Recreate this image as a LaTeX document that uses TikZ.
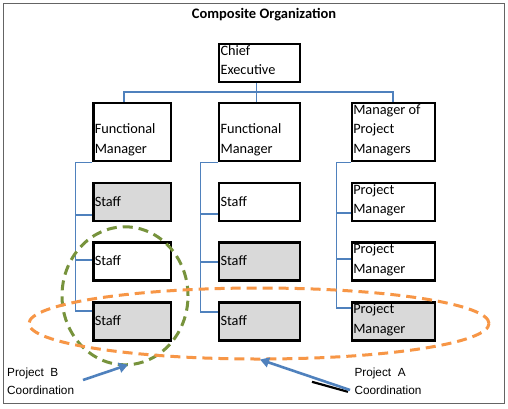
\documentclass[tikz,border=0pt]{standalone}
\usepackage{fontspec}
\setmainfont{Carlito}
\newfontfamily\arialf{Liberation Sans}
\usetikzlibrary{arrows.meta,shapes.geometric}
\pgfdeclarelayer{back}
\pgfdeclarelayer{bg}
\pgfsetlayers{back,bg,main}
\definecolor{conncol}{HTML}{4F81BD}
\definecolor{boxgray}{HTML}{D9D9D9}
\definecolor{projAcol}{HTML}{F79646}
\definecolor{projBcol}{HTML}{77933C}
\definecolor{framecol}{HTML}{646464}
\newcommand{\mlines}[1]{\begin{tabular}[t]{@{}l@{}}#1\end{tabular}}
\begin{document}
\begin{tikzpicture}[x=1pt,y=-1pt,
  orgbox/.style={draw=black, line width=2.3pt, fill=white, inner sep=0pt, minimum height=38pt},
  shaded/.style={fill=boxgray},
  boxtext/.style={anchor=base west, inner sep=0pt, font=\fontsize{14.3}{19.5}\selectfont},
  conn/.style={draw=conncol, line width=1.1pt},
  ring/.style={draw, ellipse, line width=3pt, dash pattern=on 10pt off 6pt, inner sep=0pt},
  pointer/.style={draw=conncol, line width=2.6pt, -{Triangle[length=9pt,width=10pt]}},
  lbl/.style={anchor=base west, inner sep=0pt, font=\arialf\fontsize{11.8}{18}\selectfont}]
\useasboundingbox (0,0) rectangle (508,408);
\begin{pgfonlayer}{back}
\fill[white] (0,0) rectangle (508,408);
\draw[framecol, line width=1.3pt] (3.5,3.5) rectangle (504.5,403.5);
\end{pgfonlayer}

\node[font=\fontsize{14.5}{17}\selectfont\bfseries, anchor=base, inner sep=0pt] (title) at (264,18.5) {Composite Organization};

% boxes
\node[orgbox, minimum width=80.7pt] (ce) at (259.65,63) {};
\node[orgbox, minimum width=77.5pt, minimum height=58pt] (fm1) at (132.25,132) {};
\node[orgbox, minimum width=80.7pt, minimum height=58pt] (fm2) at (259.65,132) {};
\node[orgbox, minimum width=83pt, minimum height=58pt] (mpm) at (393.5,132) {};

\node[orgbox, shaded, minimum width=77.5pt] (r1c1) at (132.25,202) {};
\node[orgbox, minimum width=80.7pt] (r1c2) at (259.65,202) {};
\node[orgbox, minimum width=83pt] (r1c3) at (393.5,202) {};

\node[orgbox, minimum width=77.5pt] (r2c1) at (132.25,261.5) {};
\node[orgbox, shaded, minimum width=80.7pt] (r2c2) at (259.65,261.5) {};
\node[orgbox, minimum width=83pt] (r2c3) at (393.5,261.5) {};

\node[orgbox, shaded, minimum width=77.5pt] (r3c1) at (132.25,321.5) {};
\node[orgbox, shaded, minimum width=80.7pt] (r3c2) at (259.65,321.5) {};
\node[orgbox, shaded, minimum width=83pt] (r3c3) at (393.5,321.5) {};

% texts
\node[boxtext] (tce) at ([shift={(2.2,12.5)}]ce.north west) {\mlines{Chief\\Executive}};
\node[boxtext] (tfm1) at ([shift={(2.2,12.5)}]fm1.north west) {\mlines{\\Functional\\Manager}};
\node[boxtext] (tfm2) at ([shift={(2.2,12.5)}]fm2.north west) {\mlines{\\Functional\\Manager}};
\node[boxtext] (tmpm) at ([shift={(2.2,12.5)}]mpm.north west) {\mlines{Manager of\\Project\\Managers}};

\node[boxtext] (t11) at ([shift={(2.2,24.5)}]r1c1.north west) {Staff};
\node[boxtext] (t12) at ([shift={(2.2,24.5)}]r1c2.north west) {Staff};
\node[boxtext] (t13) at ([shift={(2.2,12.2)}]r1c3.north west) {\mlines{Project\\Manager}};
\node[boxtext] (t21) at ([shift={(2.2,24.5)}]r2c1.north west) {Staff};
\node[boxtext] (t22) at ([shift={(2.2,24.5)}]r2c2.north west) {Staff};
\node[boxtext] (t23) at ([shift={(2.2,12.2)}]r2c3.north west) {\mlines{Project\\Manager}};
\node[boxtext] (t31) at ([shift={(2.2,24.5)}]r3c1.north west) {Staff};
\node[boxtext] (t32) at ([shift={(2.2,24.5)}]r3c2.north west) {Staff};
\node[boxtext] (t33) at ([shift={(2.2,12.2)}]r3c3.north west) {\mlines{Project\\Manager}};

% connectors
\begin{pgfonlayer}{bg}
\coordinate (busL) at (124,92);
\coordinate (busR) at (393,92);
\draw[conn] (fm1.north -| busL) -- (busL) -- (busR) -- (mpm.north -| busR);
\draw[conn] ([xshift=-3.5pt]ce.south) -- ([xshift=-3.5pt]fm2.north);

\draw[conn] (fm1.south west) -- ++(-16.5,0) |- ([shift={(0,-10.5)}]r3c1.west);
\draw[conn] ([shift={(0,13)}]r1c1.west) -- ++(-16.5,0);
\draw[conn] ([shift={(0,-1.5)}]r2c1.west) -- ++(-16.5,0);

\draw[conn] (fm2.south west) -- ++(-17.3,0) |- ([shift={(0,-9.5)}]r3c2.west);
\draw[conn] ([shift={(0,12)}]r1c2.west) -- ++(-17.3,0);
\draw[conn] ([shift={(0,0.5)}]r2c2.west) -- ++(-17.3,0);

\draw[conn] (mpm.south west) -- ++(-14,0) |- ([shift={(0,-13.5)}]r3c3.west);
\draw[conn] ([shift={(0,11)}]r1c3.west) -- ++(-14,0);
\draw[conn] ([shift={(0,-2.5)}]r2c3.west) -- ++(-14,0);
\end{pgfonlayer}

% coordination rings
\node[ring, draw=projBcol, minimum width=126pt, minimum height=138pt] (projB) at (125,295.8) {};
\node[ring, draw=projAcol, minimum width=460pt, minimum height=71pt] (projA) at (259,323.5) {};

% labels and pointers
\node[lbl] (labB) at (7,376) {\mlines{Project\ \ B\\Coordination}};
\node[lbl] (labA) at (354.3,376) {\mlines{Project\ \ A\\Coordination}};

\coordinate (bTail) at (83,380);
\coordinate (aTail) at (350,390);
\coordinate (shS) at (312,381.8);
\coordinate (shE) at (348,391.8);
\draw[pointer] (bTail) -- ([shift={(3,-1.5)}]projB.south);
\draw[black, line width=2.2pt] (shS) -- (shE);
\draw[pointer] (aTail) -- ([shift={(1,-1)}]projA.south);
\end{tikzpicture}
\end{document}
